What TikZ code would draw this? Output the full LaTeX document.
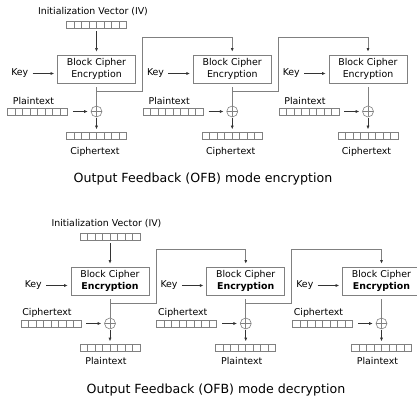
\documentclass[tikz,border=0pt]{standalone}
\usepackage{fontspec}
\setmainfont{DejaVu Sans}
\usetikzlibrary{arrows.meta}

\tikzset{
  txt/.style={font=\fontsize{9.4}{11.5}\selectfont, inner sep=1pt},
  cipher/.style={txt, draw=gray, line width=0.7pt, minimum width=78pt, minimum height=28pt, align=center},
  reg/.style={draw=gray, line width=0.6pt, minimum width=60pt, minimum height=7pt, inner sep=0pt,
    path picture={\foreach \k in {1,...,7}
      \draw[gray, line width=0.6pt] ([xshift=\k*7.5pt]path picture bounding box.south west) -- ([xshift=\k*7.5pt]path picture bounding box.north west);}},
  xor/.style={draw=gray, line width=0.6pt, circle, minimum size=11pt, inner sep=0pt,
    path picture={\draw[gray, line width=0.6pt] (path picture bounding box.north) -- (path picture bounding box.south)
      (path picture bounding box.west) -- (path picture bounding box.east);}},
  tip/.style={-{Latex[length=3.5pt,width=3pt,color=black!80]}},
  flow/.style={tip, draw=black!80, line width=0.6pt, shorten >=3pt, shorten <=3pt},
  fb/.style={draw=gray, line width=0.7pt},
  fbarrow/.style={fb, tip, shorten >=3pt},
  caption/.style={font=\fontsize{12.6}{15}\selectfont}
}

\begin{document}
\begin{tikzpicture}[x=1pt, y=-1pt]
  \useasboundingbox (0,0) rectangle (417,403);

  % two halves: e = encryption, d = decryption
  \foreach \s/\cx/\cy/\intext/\outtext/\outy/\outx/\fnt in
      {e/96.5/0/Plaintext/Ciphertext/152/-1.5/\mdseries,
       d/110/212/Ciphertext/Plaintext/149/-4/\bfseries} {
    \foreach \i [evaluate=\i as \x using {\cx+(\i-1)*135.75}] in {1,2,3} {
      \node[cipher] (box\s\i) at (\x, \cy+69) {Block Cipher\\{\fnt Encryption}};
      \node[txt, anchor=east] (key\s\i) at (\x-67, \cy+73.5) {Key};
      \node[reg] (in\s\i) at (\x-59, \cy+111.5) {};
      \node[txt] (inlbl\s\i) at (\x-63, \cy+100.5) {\intext};
      \node[xor] (xor\s\i) at (\x, \cy+111.5) {};
      \node[reg] (out\s\i) at (\x, \cy+136) {};
      \node[txt] (outlbl\s\i) at (\x+\outx, \cy+\outy) {\outtext};
      \draw[flow] (key\s\i) -- (box\s\i.west |- key\s\i);
      \draw[flow, shorten <=5pt] (in\s\i) -- (xor\s\i);
      \draw[fb] ([yshift=-4pt]box\s\i.south) -- (xor\s\i.north);
      \draw[flow, shorten <=1pt] (xor\s\i) -- (out\s\i);
    }
    \node[txt] (ivlbl\s) at (\cx-3.5, \cy+12) {Initialization Vector (IV)};
    \node[reg] (iv\s) at (\cx, \cy+24.5) {};
    \draw[flow] (iv\s) -- (box\s1);
    % feedback from one block to the next
    \foreach \i/\j in {1/2, 2/3}
      \draw[fbarrow] (box\s\i.south) ++(0,8) -| ++(46,-54) -| (box\s\j.north);
  }

  \node[caption] (enccap) at (203, 179) {Output Feedback (OFB) mode encryption};
  \node[caption] (deccap) at (216, 390.5) {Output Feedback (OFB) mode decryption};
\end{tikzpicture}
\end{document}
